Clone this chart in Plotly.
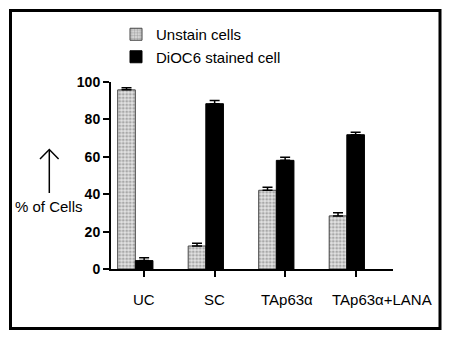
import plotly.graph_objects as go

categories = ["UC", "SC", "TAp63α", "TAp63α+LANA"]
unstain = [95.8, 12.3, 42.1, 28.4]
unstain_err = [1.1, 1.5, 1.6, 1.7]
stained = [4.5, 88.4, 58.1, 71.8]
stained_err = [1.5, 1.7, 1.6, 1.3]
y_ticks = [0, 20, 40, 60, 80, 100]

FONT = "Liberation Sans, Arial, sans-serif"
OFF = 8  # default body margin of the html page
W, H = 450 - OFF, 341 - OFF
# plot area in page pixels
PL, PR, PT, PB = 111, 393, 82, 269
L, R, T, B = PL - OFF, PR - OFF, PT - OFF, PB - OFF


def fx(px):
    """page pixel x -> paper coordinate"""
    return (px - PL) / (PR - PL)


def fy(py):
    """page pixel y -> paper coordinate"""
    return (PB - py) / (PB - PT)


pos = list(range(len(categories)))
label_shift = [0, 0, 2, 26]  # px, as in the original layout

fig = go.Figure()
fig.add_trace(go.Bar(
    x=pos, y=unstain, name="Unstain cells",
    offset=-0.375, width=0.25,
    marker=dict(color="white",
                line=dict(color="#444444", width=1),
                pattern=dict(shape=".", fgcolor="#6e6e6e", bgcolor="#e2e2e2",
                             size=3.5, solidity=0.5)),
    error_y=dict(type="data", array=unstain_err, arrayminus=[0] * 4,
                 symmetric=False, color="black", thickness=1.5, width=5),
))
fig.add_trace(go.Bar(
    x=pos, y=stained, name="DiOC6 stained cell",
    offset=-0.125, width=0.25,
    marker=dict(color="black", line=dict(color="black", width=1)),
    error_y=dict(type="data", array=stained_err, arrayminus=[0] * 4,
                 symmetric=False, color="black", thickness=1.5, width=5),
))

shapes = [
    dict(type="rect", xref="paper", yref="paper",
         x0=fx(10.5), x1=fx(440), y0=fy(328.5), y1=fy(10.5),
         line=dict(color="black", width=3), fillcolor="rgba(0,0,0,0)", layer="above"),
    dict(type="line", xref="paper", yref="paper",
         x0=fx(49.3), x1=fx(49.3), y0=fy(193), y1=fy(150),
         line=dict(color="black", width=1.5)),
    dict(type="path", xref="paper", yref="paper",
         path=f"M{fx(40)},{fy(159)} L{fx(49.3)},{fy(149.5)} L{fx(58.6)},{fy(159)}",
         line=dict(color="black", width=1.5)),
]

annotations = [
    dict(text="% of Cells", xref="paper", yref="paper", x=fx(48.5), y=fy(206),
         xanchor="center", yanchor="middle", showarrow=False,
         font=dict(family=FONT, size=15, color="black")),
]
for p, lab, sh in zip(pos, categories, label_shift):
    annotations.append(dict(
        text=lab, xref="x", yref="paper", x=p, y=fy(299.5), xshift=sh,
        xanchor="center", yanchor="middle", showarrow=False,
        font=dict(family=FONT, size=15, color="black")))

fig.update_layout(
    width=W, height=H,
    margin=dict(l=L, r=W - R, t=T, b=H - B, pad=0, autoexpand=False),
    paper_bgcolor="white", plot_bgcolor="white",
    barmode="overlay",
    showlegend=True,
    legend=dict(x=fx(116), y=fy(18), xanchor="left", yanchor="top",
                font=dict(family=FONT, size=15, color="black"),
                bgcolor="rgba(0,0,0,0)", tracegroupgap=0),
    xaxis=dict(range=[-0.47, 3.53], tickvals=pos, showticklabels=False,
               showline=True, linecolor="black", linewidth=2,
               ticks="outside", ticklen=6, tickwidth=2, tickcolor="black",
               showgrid=False, zeroline=False, automargin=False),
    yaxis=dict(range=[0, 100], tickvals=y_ticks,
               showline=True, linecolor="black", linewidth=2,
               ticks="outside", ticklen=6, tickwidth=2, tickcolor="black",
               showgrid=False, zeroline=False, automargin=False,
               tickfont=dict(family=FONT, size=14, color="black", weight="bold")),
    shapes=shapes, annotations=annotations,
    font=dict(family=FONT, color="black"),
)

fig.write_html("out.html")
